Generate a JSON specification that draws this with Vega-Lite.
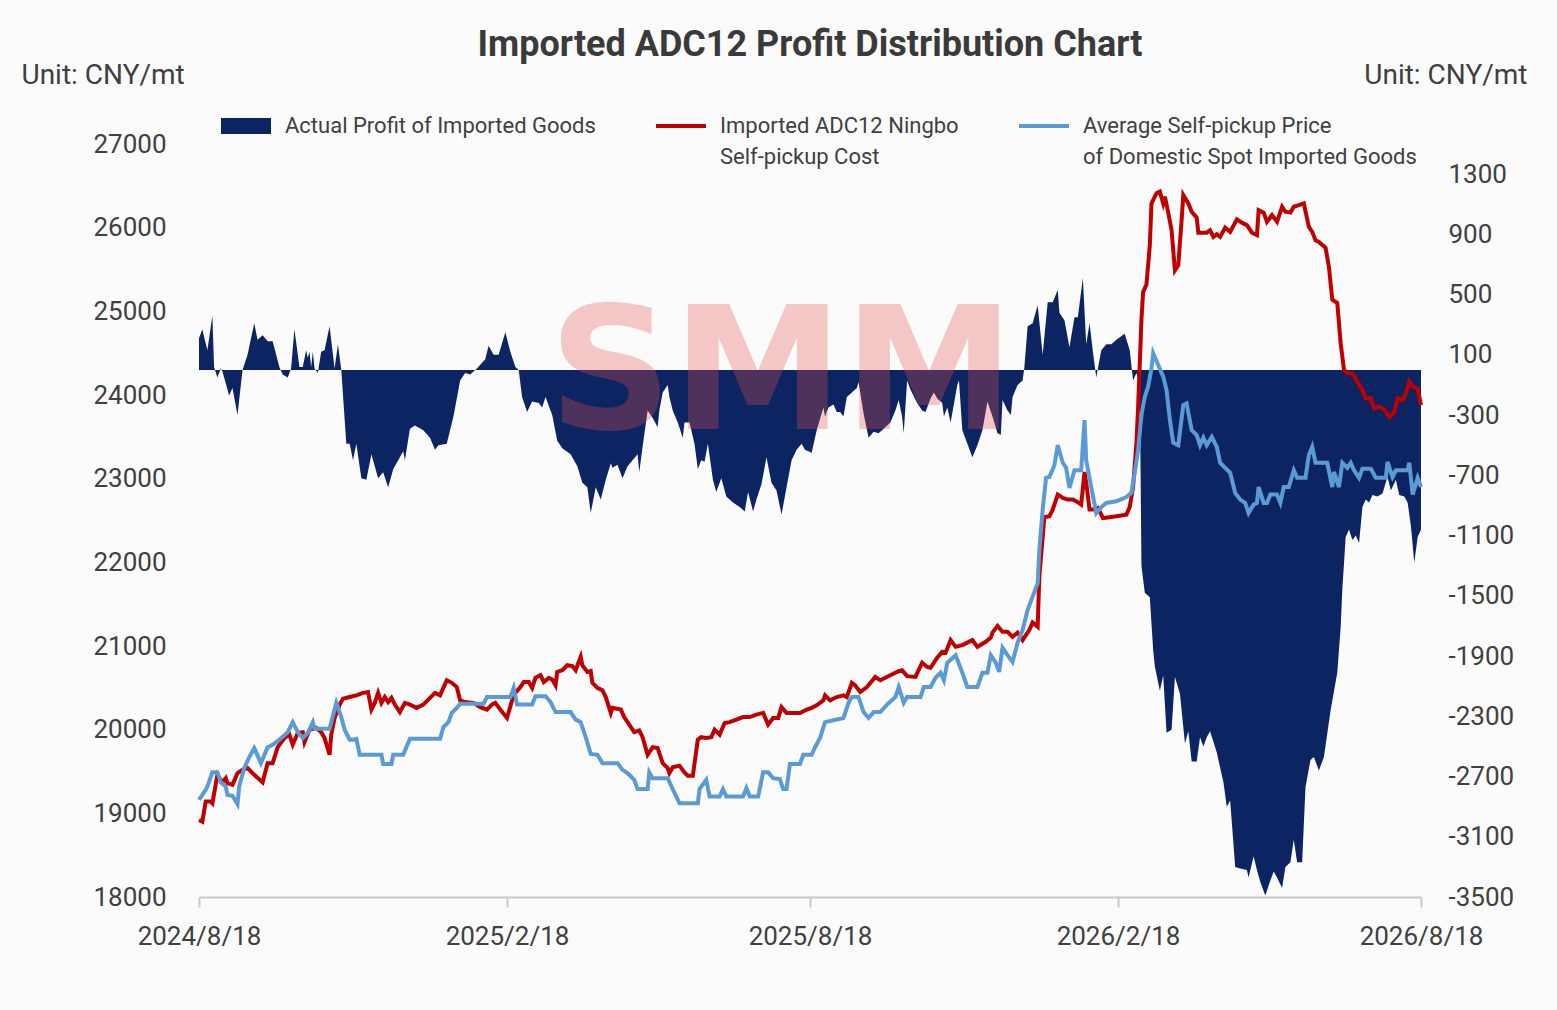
{
  "$schema": "https://vega.github.io/schema/vega-lite/v6.json",
  "width": 1222,
  "height": 753,
  "autosize": {"type": "none"},
  "padding": {"left": 199, "top": 144, "right": 136, "bottom": 113},
  "background": "#fbfbfb",
  "config": {"view": {"stroke": null}, "font": "Roboto", "axis": {"grid": false}},
  "title": {
    "text": "Imported ADC12 Profit Distribution Chart",
    "fontSize": 36,
    "fontWeight": "bold",
    "color": "#3a3a3a",
    "anchor": "middle",
    "frame": "group",
    "offset": 0,
    "dy": 3
  },
  "datasets": {
    "profit": [
      {"date": "2024-08-18", "value": 210}, {"date": "2024-08-20", "value": 270}, {"date": "2024-08-23", "value": 130},
      {"date": "2024-08-26", "value": 360}, {"date": "2024-08-27", "value": 20}, {"date": "2024-08-29", "value": -50},
      {"date": "2024-08-31", "value": 10}, {"date": "2024-09-01", "value": -10}, {"date": "2024-09-05", "value": -170},
      {"date": "2024-09-07", "value": -120}, {"date": "2024-09-10", "value": -300}, {"date": "2024-09-13", "value": 0},
      {"date": "2024-09-16", "value": 100}, {"date": "2024-09-20", "value": 310}, {"date": "2024-09-22", "value": 200},
      {"date": "2024-09-25", "value": 230}, {"date": "2024-09-28", "value": 190}, {"date": "2024-10-01", "value": 190},
      {"date": "2024-10-05", "value": 20}, {"date": "2024-10-07", "value": -30}, {"date": "2024-10-10", "value": -50},
      {"date": "2024-10-12", "value": 10}, {"date": "2024-10-14", "value": 270}, {"date": "2024-10-17", "value": 20},
      {"date": "2024-10-19", "value": 20}, {"date": "2024-10-21", "value": 130}, {"date": "2024-10-22", "value": 80},
      {"date": "2024-10-23", "value": 120}, {"date": "2024-10-24", "value": 20}, {"date": "2024-10-25", "value": 120},
      {"date": "2024-10-26", "value": 10}, {"date": "2024-10-28", "value": -20}, {"date": "2024-10-30", "value": 120},
      {"date": "2024-11-01", "value": 130}, {"date": "2024-11-04", "value": 290}, {"date": "2024-11-07", "value": 10},
      {"date": "2024-11-09", "value": 170}, {"date": "2024-11-11", "value": 0}, {"date": "2024-11-14", "value": -490},
      {"date": "2024-11-16", "value": -490}, {"date": "2024-11-18", "value": -600}, {"date": "2024-11-20", "value": -490},
      {"date": "2024-11-23", "value": -720}, {"date": "2024-11-26", "value": -730}, {"date": "2024-11-29", "value": -560},
      {"date": "2024-12-03", "value": -720}, {"date": "2024-12-06", "value": -680}, {"date": "2024-12-09", "value": -780},
      {"date": "2024-12-12", "value": -660}, {"date": "2024-12-15", "value": -600}, {"date": "2024-12-18", "value": -540},
      {"date": "2024-12-19", "value": -600}, {"date": "2024-12-22", "value": -390}, {"date": "2024-12-25", "value": -370},
      {"date": "2024-12-30", "value": -400}, {"date": "2025-01-03", "value": -450}, {"date": "2025-01-06", "value": -530},
      {"date": "2025-01-08", "value": -500}, {"date": "2025-01-13", "value": -490}, {"date": "2025-01-17", "value": -310},
      {"date": "2025-01-21", "value": -70}, {"date": "2025-01-24", "value": -20}, {"date": "2025-01-27", "value": -30},
      {"date": "2025-01-31", "value": 10}, {"date": "2025-02-05", "value": 70}, {"date": "2025-02-07", "value": 160},
      {"date": "2025-02-10", "value": 100}, {"date": "2025-02-13", "value": 100}, {"date": "2025-02-17", "value": 250},
      {"date": "2025-02-20", "value": 120}, {"date": "2025-02-23", "value": 20}, {"date": "2025-02-25", "value": 0},
      {"date": "2025-02-27", "value": -180}, {"date": "2025-03-02", "value": -280}, {"date": "2025-03-05", "value": -210},
      {"date": "2025-03-09", "value": -220}, {"date": "2025-03-11", "value": -250}, {"date": "2025-03-13", "value": -180},
      {"date": "2025-03-17", "value": -300}, {"date": "2025-03-20", "value": -470}, {"date": "2025-03-23", "value": -520},
      {"date": "2025-03-28", "value": -560}, {"date": "2025-04-01", "value": -640}, {"date": "2025-04-04", "value": -750},
      {"date": "2025-04-07", "value": -780}, {"date": "2025-04-09", "value": -950}, {"date": "2025-04-12", "value": -780},
      {"date": "2025-04-15", "value": -860}, {"date": "2025-04-18", "value": -730}, {"date": "2025-04-21", "value": -620},
      {"date": "2025-04-22", "value": -650}, {"date": "2025-04-25", "value": -630}, {"date": "2025-04-28", "value": -720},
      {"date": "2025-05-01", "value": -640}, {"date": "2025-05-04", "value": -600}, {"date": "2025-05-07", "value": -560},
      {"date": "2025-05-08", "value": -680}, {"date": "2025-05-10", "value": -510}, {"date": "2025-05-13", "value": -270},
      {"date": "2025-05-16", "value": -320}, {"date": "2025-05-19", "value": -380}, {"date": "2025-05-20", "value": -270},
      {"date": "2025-05-22", "value": -150}, {"date": "2025-05-25", "value": -100}, {"date": "2025-05-26", "value": -180},
      {"date": "2025-05-28", "value": -270}, {"date": "2025-05-31", "value": -350}, {"date": "2025-06-03", "value": -450},
      {"date": "2025-06-04", "value": -350}, {"date": "2025-06-07", "value": -350}, {"date": "2025-06-10", "value": -490},
      {"date": "2025-06-12", "value": -660}, {"date": "2025-06-14", "value": -600}, {"date": "2025-06-16", "value": -610},
      {"date": "2025-06-18", "value": -490}, {"date": "2025-06-21", "value": -730}, {"date": "2025-06-23", "value": -810},
      {"date": "2025-06-26", "value": -720}, {"date": "2025-06-29", "value": -840}, {"date": "2025-07-03", "value": -880},
      {"date": "2025-07-07", "value": -910}, {"date": "2025-07-10", "value": -940}, {"date": "2025-07-12", "value": -810},
      {"date": "2025-07-15", "value": -940}, {"date": "2025-07-17", "value": -860}, {"date": "2025-07-20", "value": -760},
      {"date": "2025-07-23", "value": -580}, {"date": "2025-07-26", "value": -750}, {"date": "2025-07-29", "value": -800},
      {"date": "2025-08-01", "value": -960}, {"date": "2025-08-04", "value": -780}, {"date": "2025-08-07", "value": -600},
      {"date": "2025-08-10", "value": -530}, {"date": "2025-08-13", "value": -490}, {"date": "2025-08-15", "value": -530},
      {"date": "2025-08-19", "value": -550}, {"date": "2025-08-22", "value": -400}, {"date": "2025-08-26", "value": -250},
      {"date": "2025-08-27", "value": -310}, {"date": "2025-08-29", "value": -250}, {"date": "2025-09-01", "value": -230},
      {"date": "2025-09-03", "value": -280}, {"date": "2025-09-05", "value": -280}, {"date": "2025-09-07", "value": -310},
      {"date": "2025-09-09", "value": -180}, {"date": "2025-09-12", "value": -150}, {"date": "2025-09-15", "value": -120},
      {"date": "2025-09-16", "value": -80}, {"date": "2025-09-19", "value": -290}, {"date": "2025-09-22", "value": -450},
      {"date": "2025-09-25", "value": -410}, {"date": "2025-09-28", "value": -420}, {"date": "2025-10-01", "value": -390},
      {"date": "2025-10-05", "value": -350}, {"date": "2025-10-08", "value": -270}, {"date": "2025-10-10", "value": -200},
      {"date": "2025-10-12", "value": -310}, {"date": "2025-10-13", "value": -420}, {"date": "2025-10-15", "value": -70},
      {"date": "2025-10-17", "value": -130}, {"date": "2025-10-21", "value": -220}, {"date": "2025-10-24", "value": -270},
      {"date": "2025-10-26", "value": -280}, {"date": "2025-10-29", "value": -190}, {"date": "2025-10-31", "value": -150},
      {"date": "2025-11-02", "value": -190}, {"date": "2025-11-05", "value": -220}, {"date": "2025-11-06", "value": -310},
      {"date": "2025-11-08", "value": -250}, {"date": "2025-11-10", "value": -350}, {"date": "2025-11-14", "value": -100},
      {"date": "2025-11-15", "value": -70}, {"date": "2025-11-17", "value": -400}, {"date": "2025-11-20", "value": -490},
      {"date": "2025-11-23", "value": -580}, {"date": "2025-11-26", "value": -500}, {"date": "2025-11-29", "value": -400},
      {"date": "2025-12-02", "value": -210}, {"date": "2025-12-05", "value": -310}, {"date": "2025-12-08", "value": -420},
      {"date": "2025-12-10", "value": -430}, {"date": "2025-12-11", "value": -200}, {"date": "2025-12-14", "value": -270},
      {"date": "2025-12-16", "value": -300}, {"date": "2025-12-17", "value": -180}, {"date": "2025-12-20", "value": -100},
      {"date": "2025-12-23", "value": -70}, {"date": "2025-12-24", "value": 10}, {"date": "2025-12-26", "value": 290},
      {"date": "2025-12-29", "value": 310}, {"date": "2026-01-01", "value": 430}, {"date": "2026-01-04", "value": 100},
      {"date": "2026-01-07", "value": 450}, {"date": "2026-01-10", "value": 450}, {"date": "2026-01-13", "value": 530},
      {"date": "2026-01-14", "value": 380}, {"date": "2026-01-17", "value": 330}, {"date": "2026-01-20", "value": 150},
      {"date": "2026-01-23", "value": 350}, {"date": "2026-01-25", "value": 350}, {"date": "2026-01-28", "value": 610},
      {"date": "2026-01-30", "value": 170}, {"date": "2026-02-01", "value": 310}, {"date": "2026-02-03", "value": 120},
      {"date": "2026-02-05", "value": -50}, {"date": "2026-02-08", "value": 130}, {"date": "2026-02-11", "value": 170},
      {"date": "2026-02-14", "value": 170}, {"date": "2026-02-17", "value": 200}, {"date": "2026-02-22", "value": 240},
      {"date": "2026-02-25", "value": 130}, {"date": "2026-02-27", "value": -70}, {"date": "2026-03-01", "value": -20},
      {"date": "2026-03-03", "value": -100}, {"date": "2026-03-04", "value": -1300}, {"date": "2026-03-06", "value": -1480},
      {"date": "2026-03-09", "value": -1510}, {"date": "2026-03-11", "value": -1860}, {"date": "2026-03-12", "value": -1970},
      {"date": "2026-03-15", "value": -2130}, {"date": "2026-03-17", "value": -2030}, {"date": "2026-03-19", "value": -2410},
      {"date": "2026-03-22", "value": -2390}, {"date": "2026-03-24", "value": -2040}, {"date": "2026-03-27", "value": -2150},
      {"date": "2026-03-30", "value": -2480}, {"date": "2026-04-01", "value": -2400}, {"date": "2026-04-03", "value": -2600},
      {"date": "2026-04-06", "value": -2600}, {"date": "2026-04-08", "value": -2440}, {"date": "2026-04-10", "value": -2500},
      {"date": "2026-04-12", "value": -2440}, {"date": "2026-04-14", "value": -2400}, {"date": "2026-04-18", "value": -2540},
      {"date": "2026-04-22", "value": -2740}, {"date": "2026-04-24", "value": -2900}, {"date": "2026-04-26", "value": -2860},
      {"date": "2026-04-29", "value": -3300}, {"date": "2026-05-02", "value": -3310}, {"date": "2026-05-06", "value": -3320},
      {"date": "2026-05-07", "value": -3370}, {"date": "2026-05-10", "value": -3230}, {"date": "2026-05-12", "value": -3320},
      {"date": "2026-05-14", "value": -3400}, {"date": "2026-05-17", "value": -3490}, {"date": "2026-05-20", "value": -3390},
      {"date": "2026-05-22", "value": -3330}, {"date": "2026-05-24", "value": -3370}, {"date": "2026-05-27", "value": -3440},
      {"date": "2026-05-29", "value": -3300}, {"date": "2026-06-01", "value": -3270}, {"date": "2026-06-03", "value": -3120},
      {"date": "2026-06-05", "value": -3270}, {"date": "2026-06-08", "value": -3270}, {"date": "2026-06-10", "value": -2770},
      {"date": "2026-06-13", "value": -2590}, {"date": "2026-06-15", "value": -2570}, {"date": "2026-06-18", "value": -2660},
      {"date": "2026-06-21", "value": -2570}, {"date": "2026-06-25", "value": -2260}, {"date": "2026-06-29", "value": -2010},
      {"date": "2026-07-01", "value": -1710}, {"date": "2026-07-02", "value": -1460}, {"date": "2026-07-04", "value": -1110},
      {"date": "2026-07-06", "value": -1060}, {"date": "2026-07-08", "value": -1130}, {"date": "2026-07-10", "value": -1100},
      {"date": "2026-07-12", "value": -1150}, {"date": "2026-07-14", "value": -910}, {"date": "2026-07-16", "value": -860},
      {"date": "2026-07-18", "value": -880}, {"date": "2026-07-20", "value": -830}, {"date": "2026-07-23", "value": -840},
      {"date": "2026-07-26", "value": -820}, {"date": "2026-07-29", "value": -710}, {"date": "2026-07-31", "value": -800},
      {"date": "2026-08-03", "value": -730}, {"date": "2026-08-05", "value": -830}, {"date": "2026-08-08", "value": -840},
      {"date": "2026-08-10", "value": -880}, {"date": "2026-08-12", "value": -1040}, {"date": "2026-08-14", "value": -1280},
      {"date": "2026-08-16", "value": -1110}, {"date": "2026-08-18", "value": -1060}
    ],
    "cost": [
      {"date": "2024-08-18", "value": 18920}, {"date": "2024-08-20", "value": 18900}, {"date": "2024-08-22", "value": 19140},
      {"date": "2024-08-25", "value": 19140}, {"date": "2024-08-26", "value": 19120}, {"date": "2024-08-29", "value": 19460},
      {"date": "2024-09-01", "value": 19370}, {"date": "2024-09-03", "value": 19420}, {"date": "2024-09-04", "value": 19360},
      {"date": "2024-09-07", "value": 19340}, {"date": "2024-09-10", "value": 19480}, {"date": "2024-09-13", "value": 19520},
      {"date": "2024-09-16", "value": 19540}, {"date": "2024-09-20", "value": 19460}, {"date": "2024-09-25", "value": 19370},
      {"date": "2024-09-28", "value": 19600}, {"date": "2024-10-01", "value": 19600}, {"date": "2024-10-04", "value": 19790},
      {"date": "2024-10-08", "value": 19900}, {"date": "2024-10-11", "value": 19940}, {"date": "2024-10-13", "value": 19820},
      {"date": "2024-10-16", "value": 19960}, {"date": "2024-10-19", "value": 19970}, {"date": "2024-10-20", "value": 19850},
      {"date": "2024-10-23", "value": 20000}, {"date": "2024-10-27", "value": 20020}, {"date": "2024-10-30", "value": 19970},
      {"date": "2024-11-01", "value": 19900}, {"date": "2024-11-04", "value": 19700}, {"date": "2024-11-05", "value": 19940},
      {"date": "2024-11-07", "value": 20140}, {"date": "2024-11-10", "value": 20300}, {"date": "2024-11-12", "value": 20370},
      {"date": "2024-11-16", "value": 20390}, {"date": "2024-11-20", "value": 20410}, {"date": "2024-11-24", "value": 20440},
      {"date": "2024-11-27", "value": 20450}, {"date": "2024-11-29", "value": 20240}, {"date": "2024-12-01", "value": 20320},
      {"date": "2024-12-03", "value": 20440}, {"date": "2024-12-05", "value": 20320}, {"date": "2024-12-07", "value": 20390},
      {"date": "2024-12-09", "value": 20330}, {"date": "2024-12-11", "value": 20380}, {"date": "2024-12-13", "value": 20300},
      {"date": "2024-12-16", "value": 20210}, {"date": "2024-12-19", "value": 20320}, {"date": "2024-12-22", "value": 20300},
      {"date": "2024-12-26", "value": 20260}, {"date": "2024-12-30", "value": 20300}, {"date": "2025-01-03", "value": 20380},
      {"date": "2025-01-06", "value": 20440}, {"date": "2025-01-09", "value": 20410}, {"date": "2025-01-13", "value": 20590},
      {"date": "2025-01-16", "value": 20560}, {"date": "2025-01-19", "value": 20510}, {"date": "2025-01-21", "value": 20350},
      {"date": "2025-01-24", "value": 20330}, {"date": "2025-01-29", "value": 20320}, {"date": "2025-02-02", "value": 20270},
      {"date": "2025-02-06", "value": 20240}, {"date": "2025-02-09", "value": 20300}, {"date": "2025-02-11", "value": 20320},
      {"date": "2025-02-14", "value": 20240}, {"date": "2025-02-18", "value": 20140}, {"date": "2025-02-21", "value": 20350},
      {"date": "2025-02-23", "value": 20440}, {"date": "2025-02-26", "value": 20510}, {"date": "2025-02-28", "value": 20570},
      {"date": "2025-03-03", "value": 20570}, {"date": "2025-03-05", "value": 20500}, {"date": "2025-03-07", "value": 20620},
      {"date": "2025-03-10", "value": 20650}, {"date": "2025-03-12", "value": 20570}, {"date": "2025-03-15", "value": 20620},
      {"date": "2025-03-17", "value": 20600}, {"date": "2025-03-19", "value": 20530}, {"date": "2025-03-20", "value": 20690},
      {"date": "2025-03-23", "value": 20710}, {"date": "2025-03-26", "value": 20770}, {"date": "2025-03-29", "value": 20760},
      {"date": "2025-03-31", "value": 20710}, {"date": "2025-04-03", "value": 20870}, {"date": "2025-04-04", "value": 20770},
      {"date": "2025-04-07", "value": 20690}, {"date": "2025-04-09", "value": 20700}, {"date": "2025-04-10", "value": 20560},
      {"date": "2025-04-13", "value": 20500}, {"date": "2025-04-16", "value": 20470}, {"date": "2025-04-18", "value": 20390},
      {"date": "2025-04-21", "value": 20200}, {"date": "2025-04-22", "value": 20260}, {"date": "2025-04-27", "value": 20240},
      {"date": "2025-04-29", "value": 20150}, {"date": "2025-05-02", "value": 20060}, {"date": "2025-05-05", "value": 19970},
      {"date": "2025-05-08", "value": 19990}, {"date": "2025-05-10", "value": 19910}, {"date": "2025-05-13", "value": 19700},
      {"date": "2025-05-16", "value": 19790}, {"date": "2025-05-19", "value": 19780}, {"date": "2025-05-22", "value": 19600},
      {"date": "2025-05-25", "value": 19540}, {"date": "2025-05-26", "value": 19480}, {"date": "2025-05-28", "value": 19550},
      {"date": "2025-06-01", "value": 19570}, {"date": "2025-06-04", "value": 19490}, {"date": "2025-06-06", "value": 19450},
      {"date": "2025-06-09", "value": 19450}, {"date": "2025-06-12", "value": 19880}, {"date": "2025-06-14", "value": 19910},
      {"date": "2025-06-17", "value": 19900}, {"date": "2025-06-20", "value": 19910}, {"date": "2025-06-22", "value": 20000},
      {"date": "2025-06-25", "value": 19940}, {"date": "2025-06-28", "value": 20080}, {"date": "2025-07-01", "value": 20090},
      {"date": "2025-07-05", "value": 20120}, {"date": "2025-07-09", "value": 20150}, {"date": "2025-07-13", "value": 20150},
      {"date": "2025-07-17", "value": 20180}, {"date": "2025-07-21", "value": 20200}, {"date": "2025-07-24", "value": 20060},
      {"date": "2025-07-27", "value": 20140}, {"date": "2025-07-30", "value": 20140}, {"date": "2025-08-01", "value": 20270},
      {"date": "2025-08-04", "value": 20200}, {"date": "2025-08-08", "value": 20200}, {"date": "2025-08-12", "value": 20200},
      {"date": "2025-08-16", "value": 20240}, {"date": "2025-08-19", "value": 20260}, {"date": "2025-08-22", "value": 20290},
      {"date": "2025-08-26", "value": 20350}, {"date": "2025-08-27", "value": 20410}, {"date": "2025-08-30", "value": 20350},
      {"date": "2025-09-03", "value": 20390}, {"date": "2025-09-07", "value": 20410}, {"date": "2025-09-09", "value": 20390},
      {"date": "2025-09-12", "value": 20560}, {"date": "2025-09-14", "value": 20530}, {"date": "2025-09-17", "value": 20450},
      {"date": "2025-09-21", "value": 20510}, {"date": "2025-09-26", "value": 20630}, {"date": "2025-09-29", "value": 20590},
      {"date": "2025-10-05", "value": 20650}, {"date": "2025-10-10", "value": 20700}, {"date": "2025-10-12", "value": 20710},
      {"date": "2025-10-15", "value": 20640}, {"date": "2025-10-20", "value": 20630}, {"date": "2025-10-24", "value": 20800},
      {"date": "2025-10-27", "value": 20750}, {"date": "2025-10-29", "value": 20740}, {"date": "2025-11-02", "value": 20860},
      {"date": "2025-11-05", "value": 20930}, {"date": "2025-11-07", "value": 20920}, {"date": "2025-11-10", "value": 21070},
      {"date": "2025-11-13", "value": 20990}, {"date": "2025-11-17", "value": 21010}, {"date": "2025-11-20", "value": 21040},
      {"date": "2025-11-23", "value": 21070}, {"date": "2025-11-26", "value": 20990}, {"date": "2025-12-01", "value": 21050},
      {"date": "2025-12-04", "value": 21100}, {"date": "2025-12-05", "value": 21160}, {"date": "2025-12-08", "value": 21240},
      {"date": "2025-12-11", "value": 21170}, {"date": "2025-12-14", "value": 21170}, {"date": "2025-12-17", "value": 21110},
      {"date": "2025-12-20", "value": 21160}, {"date": "2025-12-23", "value": 21070}, {"date": "2025-12-27", "value": 21190},
      {"date": "2025-12-29", "value": 21280}, {"date": "2026-01-01", "value": 21230}, {"date": "2026-01-02", "value": 21830},
      {"date": "2026-01-05", "value": 22540}, {"date": "2026-01-08", "value": 22550}, {"date": "2026-01-10", "value": 22630},
      {"date": "2026-01-13", "value": 22810}, {"date": "2026-01-16", "value": 22770}, {"date": "2026-01-19", "value": 22750},
      {"date": "2026-01-22", "value": 22750}, {"date": "2026-01-25", "value": 22720}, {"date": "2026-01-27", "value": 22690},
      {"date": "2026-01-29", "value": 23080}, {"date": "2026-01-30", "value": 22950}, {"date": "2026-02-01", "value": 22630},
      {"date": "2026-02-03", "value": 22630}, {"date": "2026-02-06", "value": 22650}, {"date": "2026-02-09", "value": 22530},
      {"date": "2026-02-13", "value": 22540}, {"date": "2026-02-17", "value": 22550}, {"date": "2026-02-23", "value": 22570},
      {"date": "2026-02-25", "value": 22660}, {"date": "2026-02-27", "value": 22900}, {"date": "2026-03-01", "value": 23430},
      {"date": "2026-03-02", "value": 23850}, {"date": "2026-03-04", "value": 24900}, {"date": "2026-03-05", "value": 25230},
      {"date": "2026-03-07", "value": 25320}, {"date": "2026-03-09", "value": 25790}, {"date": "2026-03-10", "value": 26290},
      {"date": "2026-03-13", "value": 26410}, {"date": "2026-03-15", "value": 26430}, {"date": "2026-03-17", "value": 26290},
      {"date": "2026-03-18", "value": 26370}, {"date": "2026-03-20", "value": 26180}, {"date": "2026-03-22", "value": 25970},
      {"date": "2026-03-24", "value": 25490}, {"date": "2026-03-26", "value": 25550}, {"date": "2026-03-28", "value": 26090},
      {"date": "2026-03-29", "value": 26390}, {"date": "2026-04-01", "value": 26290}, {"date": "2026-04-03", "value": 26190},
      {"date": "2026-04-06", "value": 26120}, {"date": "2026-04-07", "value": 25940}, {"date": "2026-04-12", "value": 25940},
      {"date": "2026-04-14", "value": 25970}, {"date": "2026-04-16", "value": 25890}, {"date": "2026-04-18", "value": 25920},
      {"date": "2026-04-20", "value": 25890}, {"date": "2026-04-23", "value": 26000}, {"date": "2026-04-26", "value": 25950},
      {"date": "2026-04-30", "value": 26100}, {"date": "2026-05-03", "value": 26060}, {"date": "2026-05-06", "value": 26030},
      {"date": "2026-05-09", "value": 25940}, {"date": "2026-05-12", "value": 25910}, {"date": "2026-05-13", "value": 26210},
      {"date": "2026-05-16", "value": 26180}, {"date": "2026-05-18", "value": 26070}, {"date": "2026-05-21", "value": 26150},
      {"date": "2026-05-24", "value": 26070}, {"date": "2026-05-27", "value": 26250}, {"date": "2026-05-29", "value": 26190},
      {"date": "2026-06-01", "value": 26180}, {"date": "2026-06-03", "value": 26250}, {"date": "2026-06-06", "value": 26270},
      {"date": "2026-06-09", "value": 26290}, {"date": "2026-06-12", "value": 26010}, {"date": "2026-06-14", "value": 25950},
      {"date": "2026-06-16", "value": 25850}, {"date": "2026-06-18", "value": 25830}, {"date": "2026-06-22", "value": 25760},
      {"date": "2026-06-24", "value": 25530}, {"date": "2026-06-26", "value": 25140}, {"date": "2026-06-29", "value": 25100},
      {"date": "2026-07-01", "value": 24620}, {"date": "2026-07-03", "value": 24300}, {"date": "2026-07-05", "value": 24260},
      {"date": "2026-07-08", "value": 24260}, {"date": "2026-07-11", "value": 24160}, {"date": "2026-07-14", "value": 24060},
      {"date": "2026-07-16", "value": 23960}, {"date": "2026-07-19", "value": 23960}, {"date": "2026-07-21", "value": 23840},
      {"date": "2026-07-24", "value": 23860}, {"date": "2026-07-27", "value": 23830}, {"date": "2026-07-30", "value": 23740},
      {"date": "2026-08-02", "value": 23790}, {"date": "2026-08-04", "value": 23960}, {"date": "2026-08-07", "value": 23940},
      {"date": "2026-08-09", "value": 24020}, {"date": "2026-08-11", "value": 24160}, {"date": "2026-08-13", "value": 24100},
      {"date": "2026-08-16", "value": 24080}, {"date": "2026-08-18", "value": 23880}
    ],
    "price": [
      {"date": "2024-08-18", "value": 19160}, {"date": "2024-08-22", "value": 19280}, {"date": "2024-08-23", "value": 19320},
      {"date": "2024-08-26", "value": 19490}, {"date": "2024-08-29", "value": 19490}, {"date": "2024-08-31", "value": 19370},
      {"date": "2024-09-03", "value": 19320}, {"date": "2024-09-04", "value": 19220}, {"date": "2024-09-07", "value": 19210},
      {"date": "2024-09-10", "value": 19110}, {"date": "2024-09-11", "value": 19320}, {"date": "2024-09-14", "value": 19540},
      {"date": "2024-09-17", "value": 19670}, {"date": "2024-09-20", "value": 19780}, {"date": "2024-09-24", "value": 19600},
      {"date": "2024-09-28", "value": 19790}, {"date": "2024-10-01", "value": 19820}, {"date": "2024-10-05", "value": 19880},
      {"date": "2024-10-10", "value": 19970}, {"date": "2024-10-13", "value": 20090}, {"date": "2024-10-16", "value": 19970},
      {"date": "2024-10-19", "value": 19900}, {"date": "2024-10-22", "value": 19960}, {"date": "2024-10-25", "value": 20090},
      {"date": "2024-10-26", "value": 20010}, {"date": "2024-11-04", "value": 20010}, {"date": "2024-11-08", "value": 20320},
      {"date": "2024-11-11", "value": 20150}, {"date": "2024-11-13", "value": 20000}, {"date": "2024-11-16", "value": 19880},
      {"date": "2024-11-18", "value": 19880}, {"date": "2024-11-20", "value": 19890}, {"date": "2024-11-22", "value": 19700},
      {"date": "2024-12-05", "value": 19700}, {"date": "2024-12-06", "value": 19590}, {"date": "2024-12-11", "value": 19590},
      {"date": "2024-12-12", "value": 19700}, {"date": "2024-12-18", "value": 19700}, {"date": "2024-12-22", "value": 19890},
      {"date": "2025-01-09", "value": 19890}, {"date": "2025-01-11", "value": 20030}, {"date": "2025-01-14", "value": 20090},
      {"date": "2025-01-16", "value": 20200}, {"date": "2025-01-19", "value": 20260}, {"date": "2025-01-21", "value": 20310},
      {"date": "2025-02-04", "value": 20310}, {"date": "2025-02-06", "value": 20390}, {"date": "2025-02-20", "value": 20390},
      {"date": "2025-02-22", "value": 20500}, {"date": "2025-02-24", "value": 20300}, {"date": "2025-03-05", "value": 20300},
      {"date": "2025-03-07", "value": 20400}, {"date": "2025-03-13", "value": 20400}, {"date": "2025-03-16", "value": 20330},
      {"date": "2025-03-19", "value": 20210}, {"date": "2025-03-28", "value": 20210}, {"date": "2025-03-31", "value": 20120},
      {"date": "2025-04-03", "value": 20090}, {"date": "2025-04-06", "value": 19910}, {"date": "2025-04-09", "value": 19710},
      {"date": "2025-04-13", "value": 19700}, {"date": "2025-04-16", "value": 19600}, {"date": "2025-04-25", "value": 19600},
      {"date": "2025-04-28", "value": 19520}, {"date": "2025-05-01", "value": 19480}, {"date": "2025-05-05", "value": 19400},
      {"date": "2025-05-07", "value": 19290}, {"date": "2025-05-13", "value": 19290}, {"date": "2025-05-14", "value": 19490},
      {"date": "2025-05-16", "value": 19420}, {"date": "2025-05-25", "value": 19420}, {"date": "2025-05-28", "value": 19290},
      {"date": "2025-06-01", "value": 19120}, {"date": "2025-06-12", "value": 19120}, {"date": "2025-06-13", "value": 19290},
      {"date": "2025-06-17", "value": 19400}, {"date": "2025-06-19", "value": 19200}, {"date": "2025-06-25", "value": 19200},
      {"date": "2025-06-27", "value": 19290}, {"date": "2025-06-29", "value": 19200}, {"date": "2025-07-09", "value": 19200},
      {"date": "2025-07-11", "value": 19300}, {"date": "2025-07-13", "value": 19200}, {"date": "2025-07-18", "value": 19200},
      {"date": "2025-07-21", "value": 19490}, {"date": "2025-07-24", "value": 19490}, {"date": "2025-07-27", "value": 19420},
      {"date": "2025-07-31", "value": 19410}, {"date": "2025-08-02", "value": 19290}, {"date": "2025-08-04", "value": 19290},
      {"date": "2025-08-06", "value": 19590}, {"date": "2025-08-12", "value": 19590}, {"date": "2025-08-14", "value": 19700},
      {"date": "2025-08-19", "value": 19700}, {"date": "2025-08-21", "value": 19790}, {"date": "2025-08-24", "value": 19900},
      {"date": "2025-08-27", "value": 20090}, {"date": "2025-09-07", "value": 20140}, {"date": "2025-09-10", "value": 20320},
      {"date": "2025-09-12", "value": 20390}, {"date": "2025-09-16", "value": 20390}, {"date": "2025-09-19", "value": 20210},
      {"date": "2025-09-22", "value": 20140}, {"date": "2025-09-25", "value": 20210}, {"date": "2025-09-29", "value": 20210},
      {"date": "2025-10-03", "value": 20300}, {"date": "2025-10-08", "value": 20390}, {"date": "2025-10-10", "value": 20510},
      {"date": "2025-10-13", "value": 20320}, {"date": "2025-10-15", "value": 20390}, {"date": "2025-10-23", "value": 20390},
      {"date": "2025-10-25", "value": 20510}, {"date": "2025-10-29", "value": 20510}, {"date": "2025-11-01", "value": 20620},
      {"date": "2025-11-04", "value": 20680}, {"date": "2025-11-06", "value": 20590}, {"date": "2025-11-08", "value": 20800},
      {"date": "2025-11-13", "value": 20890}, {"date": "2025-11-17", "value": 20680}, {"date": "2025-11-20", "value": 20510},
      {"date": "2025-11-26", "value": 20510}, {"date": "2025-11-29", "value": 20680}, {"date": "2025-12-02", "value": 20680},
      {"date": "2025-12-04", "value": 20890}, {"date": "2025-12-07", "value": 20800}, {"date": "2025-12-09", "value": 20690},
      {"date": "2025-12-11", "value": 20980}, {"date": "2025-12-14", "value": 20890}, {"date": "2025-12-17", "value": 20810},
      {"date": "2025-12-20", "value": 21040}, {"date": "2025-12-23", "value": 21190}, {"date": "2025-12-26", "value": 21430},
      {"date": "2025-12-29", "value": 21590}, {"date": "2026-01-01", "value": 21750}, {"date": "2026-01-02", "value": 22150},
      {"date": "2026-01-04", "value": 22630}, {"date": "2026-01-06", "value": 23010}, {"date": "2026-01-08", "value": 23020},
      {"date": "2026-01-11", "value": 23160}, {"date": "2026-01-13", "value": 23400}, {"date": "2026-01-16", "value": 23190},
      {"date": "2026-01-18", "value": 23130}, {"date": "2026-01-20", "value": 22890}, {"date": "2026-01-23", "value": 23100},
      {"date": "2026-01-27", "value": 23100}, {"date": "2026-01-29", "value": 23700}, {"date": "2026-01-30", "value": 23220},
      {"date": "2026-02-02", "value": 22900}, {"date": "2026-02-05", "value": 22590}, {"date": "2026-02-08", "value": 22660},
      {"date": "2026-02-11", "value": 22710}, {"date": "2026-02-17", "value": 22730}, {"date": "2026-02-23", "value": 22780},
      {"date": "2026-02-26", "value": 22830}, {"date": "2026-02-28", "value": 23070}, {"date": "2026-03-02", "value": 23340},
      {"date": "2026-03-04", "value": 23760}, {"date": "2026-03-06", "value": 23980}, {"date": "2026-03-08", "value": 24100},
      {"date": "2026-03-10", "value": 24320}, {"date": "2026-03-11", "value": 24500}, {"date": "2026-03-14", "value": 24360},
      {"date": "2026-03-17", "value": 24220}, {"date": "2026-03-19", "value": 24060}, {"date": "2026-03-21", "value": 23700},
      {"date": "2026-03-23", "value": 23430}, {"date": "2026-03-26", "value": 23400}, {"date": "2026-03-29", "value": 23880},
      {"date": "2026-03-31", "value": 23900}, {"date": "2026-04-03", "value": 23580}, {"date": "2026-04-06", "value": 23520},
      {"date": "2026-04-08", "value": 23400}, {"date": "2026-04-10", "value": 23490}, {"date": "2026-04-12", "value": 23400},
      {"date": "2026-04-15", "value": 23500}, {"date": "2026-04-18", "value": 23380}, {"date": "2026-04-20", "value": 23190},
      {"date": "2026-04-23", "value": 23130}, {"date": "2026-04-26", "value": 23070}, {"date": "2026-04-29", "value": 22830},
      {"date": "2026-05-02", "value": 22750}, {"date": "2026-05-05", "value": 22710}, {"date": "2026-05-07", "value": 22590},
      {"date": "2026-05-10", "value": 22690}, {"date": "2026-05-12", "value": 22710}, {"date": "2026-05-13", "value": 22900},
      {"date": "2026-05-16", "value": 22710}, {"date": "2026-05-18", "value": 22710}, {"date": "2026-05-20", "value": 22810},
      {"date": "2026-05-24", "value": 22810}, {"date": "2026-05-26", "value": 22710}, {"date": "2026-05-28", "value": 22900},
      {"date": "2026-05-31", "value": 22900}, {"date": "2026-06-03", "value": 23100}, {"date": "2026-06-05", "value": 23010},
      {"date": "2026-06-10", "value": 23010}, {"date": "2026-06-12", "value": 23280}, {"date": "2026-06-14", "value": 23380},
      {"date": "2026-06-16", "value": 23190}, {"date": "2026-06-23", "value": 23190}, {"date": "2026-06-26", "value": 22900},
      {"date": "2026-06-27", "value": 23080}, {"date": "2026-06-30", "value": 22900}, {"date": "2026-07-02", "value": 23190},
      {"date": "2026-07-05", "value": 23130}, {"date": "2026-07-07", "value": 23190}, {"date": "2026-07-09", "value": 23100},
      {"date": "2026-07-12", "value": 23010}, {"date": "2026-07-14", "value": 23120}, {"date": "2026-07-19", "value": 23120},
      {"date": "2026-07-22", "value": 23010}, {"date": "2026-07-28", "value": 23010}, {"date": "2026-07-29", "value": 23200},
      {"date": "2026-08-01", "value": 23020}, {"date": "2026-08-03", "value": 23100}, {"date": "2026-08-10", "value": 23100},
      {"date": "2026-08-11", "value": 23190}, {"date": "2026-08-13", "value": 22810}, {"date": "2026-08-16", "value": 23010},
      {"date": "2026-08-18", "value": 22900}
    ]
  },
  "layer": [
    {
      "layer": [
        {
          "data": {"name": "profit"},
          "mark": {"type": "area", "interpolate": "linear"},
          "encoding": {
            "x": {
              "field": "date",
              "type": "temporal",
              "scale": {
                "type": "utc",
                "domain": [
                  {"year": 2024, "month": 8, "date": 18, "utc": true},
                  {"year": 2026, "month": 8, "date": 18, "utc": true}
                ]
              },
              "axis": {
                "title": null,
                "values": [
                  {"year": 2024, "month": 8, "date": 18, "utc": true},
                  {"year": 2025, "month": 2, "date": 18, "utc": true},
                  {"year": 2025, "month": 8, "date": 18, "utc": true},
                  {"year": 2026, "month": 2, "date": 18, "utc": true},
                  {"year": 2026, "month": 8, "date": 18, "utc": true}
                ],
                "format": "%Y/%-m/%-d",
                "labelFontSize": 26,
                "labelColor": "#404040",
                "labelPadding": 16,
                "labelFlush": false,
                "labelOverlap": false,
                "domainColor": "#c8c8c8",
                "domainWidth": 2,
                "tickColor": "#c8c8c8",
                "tickWidth": 2,
                "tickSize": 10
              }
            },
            "y": {
              "field": "value",
              "type": "quantitative",
              "scale": {"domain": [-3500, 1500], "zero": false, "nice": false},
              "axis": {
                "orient": "right",
                "values": [-3500, -3100, -2700, -2300, -1900, -1500, -1100, -700, -300, 100, 500, 900, 1300],
                "labelExpr": "'' + datum.value",
                "ticks": false,
                "domain": false,
                "labelFontSize": 26,
                "labelColor": "#404040",
                "labelPadding": 27,
                "labelAlign": "left",
                "title": "Unit: CNY/mt",
                "titleAngle": 0,
                "titleAlign": "right",
                "titleBaseline": "alphabetic",
                "titleX": 106,
                "titleY": -61,
                "titleFontSize": 28,
                "titleFontWeight": "normal",
                "titleColor": "#404040"
              }
            },
            "y2": {"datum": 0},
            "color": {
              "datum": "Actual Profit of Imported Goods",
              "type": "nominal",
              "scale": {
                "domain": [
                  "Actual Profit of Imported Goods",
                  "Imported ADC12 Ningbo Self-pickup Cost",
                  "Average Self-pickup Price of Domestic Spot Imported Goods"
                ],
                "range": ["#0c2562", "#c00000", "#5b9bd5"]
              },
              "legend": {
                "title": null,
                "orient": "none",
                "legendX": 22,
                "legendY": -28,
                "direction": "horizontal",
                "columns": 3,
                "columnPadding": 52,
                "padding": 0,
                "labelFontSize": 22,
                "labelColor": "#404040",
                "labelLimit": 1000,
                "symbolSize": 2500,
                "symbolStrokeWidth": 4,
                "labelExpr": "datum.label == 'Imported ADC12 Ningbo Self-pickup Cost' ? ['Imported ADC12 Ningbo', 'Self-pickup Cost'] : datum.label == 'Average Self-pickup Price of Domestic Spot Imported Goods' ? ['Average Self-pickup Price', 'of Domestic Spot Imported Goods'] : [datum.label, ' ']",
                "encode": {
                  "symbols": {
                    "update": {
                      "x": {"value": 25},
                      "y": {"value": 10},
                      "shape": {"signal": "datum.value === 'Actual Profit of Imported Goods' ? 'M-1,-0.32H1V0.32H-1Z' : 'M-1,0H1'"},
                      "fill": {"signal": "datum.value === 'Actual Profit of Imported Goods' ? '#0c2562' : 'transparent'"},
                      "stroke": {"signal": "datum.value === 'Actual Profit of Imported Goods' ? '#0c2562' : datum.value === 'Imported ADC12 Ningbo Self-pickup Cost' ? '#c00000' : '#5b9bd5'"},
                      "strokeWidth": {"signal": "datum.value === 'Actual Profit of Imported Goods' ? 0 : 4"},
                      "opacity": {"value": 1}
                    }
                  },
                  "labels": {
                    "update": {
                      "x": {"value": 64},
                      "y": {"value": 0},
                      "baseline": {"value": "top"},
                      "lineHeight": {"value": 31}
                    }
                  }
                }
              }
            }
          }
        },
        {
          "data": {"values": [{}]},
          "mark": {
            "type": "text",
            "font": "DejaVu Sans",
            "fontWeight": "bold",
            "fontSize": 172,
            "color": "#e65050",
            "opacity": 0.3,
            "align": "center",
            "baseline": "middle"
          },
          "encoding": {
            "x": {"datum": {"year": 2025, "month": 8, "date": 1, "utc": true}, "type": "temporal"},
            "y": {"datum": -45, "type": "quantitative"},
            "text": {"value": "SMM"}
          }
        }
      ]
    },
    {
      "layer": [
        {
          "data": {"name": "cost"},
          "mark": {"type": "line", "strokeWidth": 4, "interpolate": "linear"},
          "encoding": {
            "x": {"field": "date", "type": "temporal"},
            "y": {
              "field": "value",
              "type": "quantitative",
              "scale": {"domain": [18000, 27000], "zero": false, "nice": false},
              "axis": {
                "orient": "left",
                "values": [18000, 19000, 20000, 21000, 22000, 23000, 24000, 25000, 26000, 27000],
                "labelExpr": "'' + datum.value",
                "ticks": false,
                "domain": false,
                "labelFontSize": 26,
                "labelColor": "#404040",
                "labelPadding": 33,
                "title": "Unit: CNY/mt",
                "titleAngle": 0,
                "titleAlign": "left",
                "titleBaseline": "alphabetic",
                "titleX": -178,
                "titleY": -61,
                "titleFontSize": 28,
                "titleFontWeight": "normal",
                "titleColor": "#404040"
              }
            },
            "color": {"datum": "Imported ADC12 Ningbo Self-pickup Cost", "type": "nominal"}
          }
        },
        {
          "data": {"name": "price"},
          "mark": {"type": "line", "strokeWidth": 4, "interpolate": "linear"},
          "encoding": {
            "x": {"field": "date", "type": "temporal"},
            "y": {"field": "value", "type": "quantitative"},
            "color": {"datum": "Average Self-pickup Price of Domestic Spot Imported Goods", "type": "nominal"}
          }
        }
      ]
    }
  ],
  "resolve": {"scale": {"y": "independent"}}
}
